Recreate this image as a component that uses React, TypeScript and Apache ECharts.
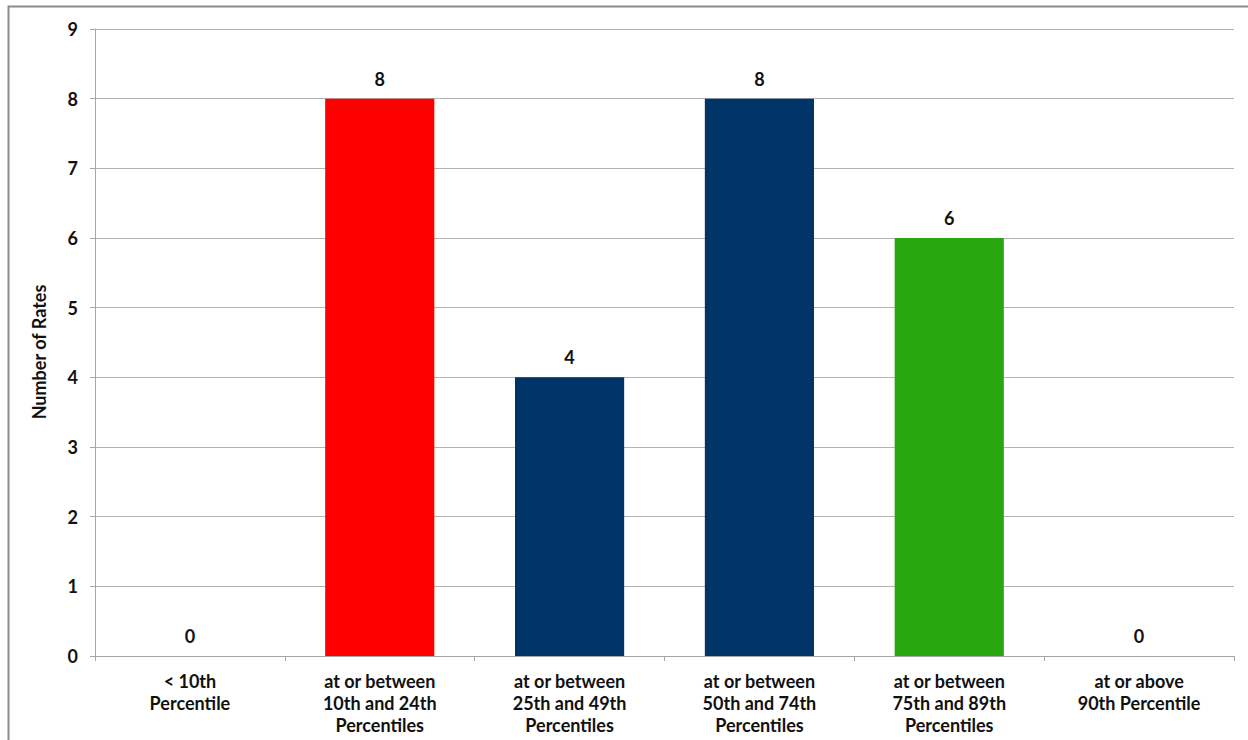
import React, { useEffect, useRef } from "react";
import * as echarts from "echarts";

const categories = [
  "< 10th\nPercentile",
  "at or between\n10th and 24th\nPercentiles",
  "at or between\n25th and 49th\nPercentiles",
  "at or between\n50th and 74th\nPercentiles",
  "at or between\n75th and 89th\nPercentiles",
  "at or above\n90th Percentile",
];
const rateCounts = [0, 8, 4, 8, 6, 0];
const barColors = ["#003366", "#ff0000", "#003366", "#003366", "#29a70f", "#003366"];
const yAxisTitle = "Number of Rates";

const FONT = "Lato, 'Open Sans', 'Liberation Sans', sans-serif";

export default function App() {
  const ref = useRef<HTMLDivElement>(null);

  useEffect(() => {
    if (!ref.current) return;
    const chart = echarts.init(ref.current, undefined, { renderer: "svg" });
    chart.setOption({
      animation: false,
      backgroundColor: "#ffffff",
      graphic: [
        {
          type: "rect",
          shape: { x: 8.5, y: 6.5, width: 1400, height: 900 },
          style: { fill: "none", stroke: "#8c8c8c", lineWidth: 2 },
          silent: true,
          z: -1,
        },
        {
          type: "text",
          x: 39,
          y: 352,
          rotation: Math.PI / 2,
          style: {
            text: yAxisTitle,
            fill: "#111",
            font: `bold 18px ${FONT}`,
            align: "center",
            verticalAlign: "middle",
          },
          silent: true,
        },
      ],
      grid: { left: 95, right: 14, top: 29, bottom: 84, containLabel: false },
      xAxis: {
        type: "category",
        data: categories,
        axisLine: { show: true, lineStyle: { color: "#a6a6a6", width: 1 } },
        axisTick: { show: true, alignWithLabel: false, length: 5, lineStyle: { color: "#a6a6a6" } },
        axisLabel: {
          interval: 0,
          color: "#111",
          fontFamily: FONT,
          fontWeight: "bold",
          fontSize: 18,
          lineHeight: 22,
          margin: 14,
        },
      },
      yAxis: {
        type: "value",
        min: 0,
        max: 9,
        interval: 1,
        axisLine: { show: true, lineStyle: { color: "#a6a6a6", width: 1 } },
        axisTick: { show: true, length: 5, lineStyle: { color: "#a6a6a6" } },
        axisLabel: {
          color: "#111",
          fontFamily: FONT,
          fontWeight: "bold",
          fontSize: 18,
          margin: 17,
        },
        splitLine: { show: true, lineStyle: { color: "#b3b3b3", width: 1 } },
      },
      series: [
        {
          type: "bar",
          barWidth: "57.5%",
          data: rateCounts.map((v, i) => ({ value: v, itemStyle: { color: barColors[i] } })),
          label: {
            show: true,
            position: "top",
            distance: 11,
            color: "#111",
            fontFamily: FONT,
            fontWeight: "bold",
            fontSize: 18,
          },
        },
      ],
    });
    return () => chart.dispose();
  }, []);

  return (
    <div
      ref={ref}
      style={{ position: "fixed", left: 0, top: 0, width: 1248, height: 740, background: "#fff" }}
    />
  );
}
